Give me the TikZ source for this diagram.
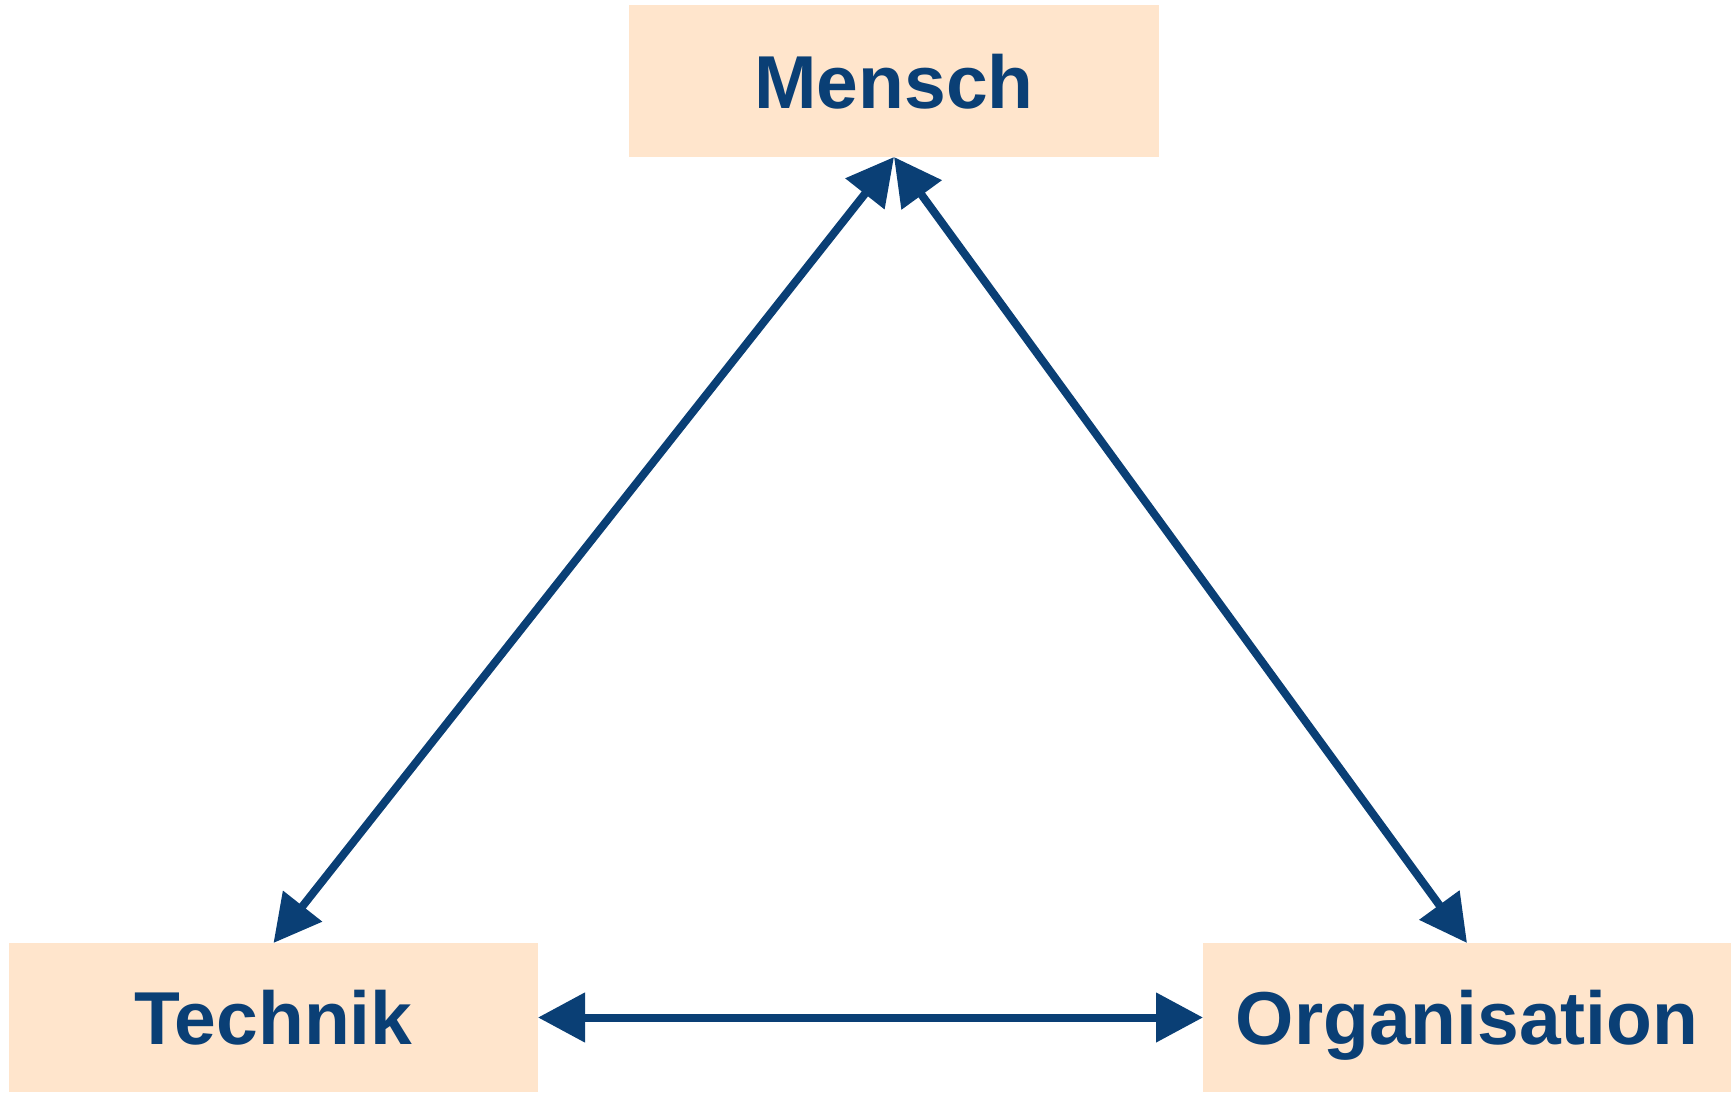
\documentclass[tikz,border=0pt]{standalone}
\usepackage{fontspec}
\newfontfamily\boxfont{Liberation Sans}[UprightFont={* Bold}]
\usetikzlibrary{arrows.meta}
\definecolor{dblue}{HTML}{0A3F75}
\definecolor{peach}{HTML}{FFE5CC}
\begin{document}
\begin{tikzpicture}[x=1pt,y=1pt,
  box/.style={fill=peach,draw=none,inner sep=0pt,outer sep=0pt,text=dblue,text height=54pt,text depth=0pt,font=\boxfont\fontsize{75}{80}\selectfont},
  arr/.style={draw=dblue,line width=8pt,{Triangle[length=47pt,width=48pt]}-{Triangle[length=47pt,width=48pt]}}]
\useasboundingbox (0,0) rectangle (1731,1092);
\node[box,minimum width=530pt,minimum height=151.5pt] (M) at (894,1010.75) {Mensch};
\node[box,minimum width=529pt,minimum height=149pt] (T) at (273.5,74.5) {Technik};
\node[box,minimum width=528pt,minimum height=149pt] (O) at (1467,74.5) {Organisation};
\draw[arr] (T.north) -- (M.south);
\draw[arr] (O.north) -- (M.south);
\draw[arr] (T.east) -- (O.west);
\end{tikzpicture}
\end{document}
